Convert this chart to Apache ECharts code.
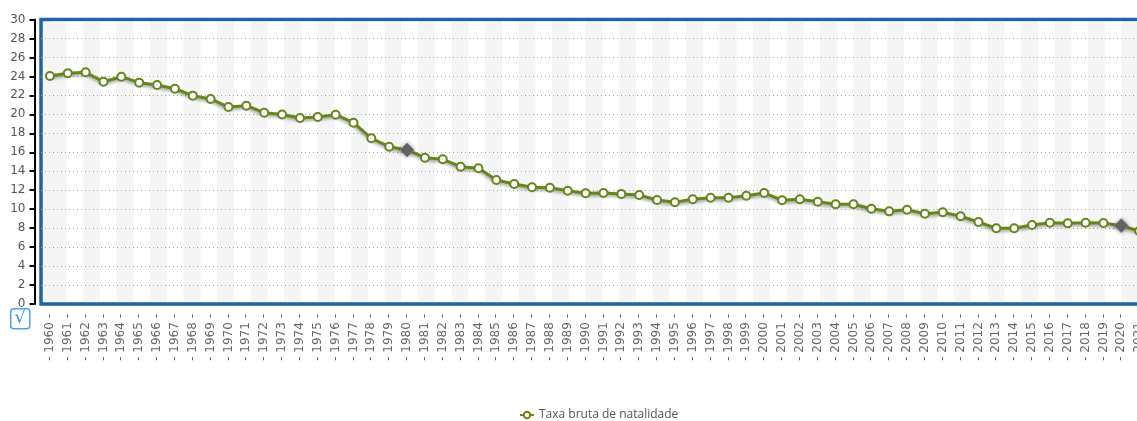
<!DOCTYPE html>
<html>
<head>
<meta charset="utf-8">
<script src="https://cdn.jsdelivr.net/npm/echarts@6/dist/echarts.min.js"></script>
<style>
  html, body { margin: 0; padding: 0; background: #fff; }
  #chart { width: 1137px; height: 421px; }
</style>
</head>
<body>
<div id="chart"></div>
<script>
// anos
const years = [];
for (let y = 1960; y <= 2021; y++) years.push(String(y));

// taxa bruta de natalidade (por mil habitantes)
const natalidade = [
  24.04, 24.33, 24.43, 23.44, 23.97, 23.34, 23.09, 22.70, 21.97, 21.62,
  20.77, 20.91, 20.17, 19.98, 19.61, 19.72, 19.96, 19.12, 17.47, 16.59,
  16.24, 15.43, 15.26, 14.48, 14.31, 13.08, 12.65, 12.31, 12.26, 11.94,
  11.67, 11.71, 11.60, 11.49, 10.97, 10.72, 11.04, 11.21, 11.21, 11.42,
  11.71, 10.94, 11.04, 10.79, 10.51, 10.51, 10.05, 9.77, 9.94, 9.52,
  9.67, 9.25, 8.65, 7.98, 7.98, 8.33, 8.57, 8.51, 8.57, 8.54,
  8.26, 7.70
];

// pontos destacados (losango)
const destaques = ['1980', '2020'];

const seriesName = 'Taxa bruta de natalidade';
const lineColor = '#66851a';
const font = 'DejaVu Sans, Verdana, sans-serif';

const chart = echarts.init(document.getElementById('chart'));

const pontos = natalidade.map((v, i) => {
  if (destaques.includes(years[i])) {
    return {
      value: v,
      symbol: 'diamond',
      symbolSize: 14,
      itemStyle: {
        color: '#666',
        borderColor: '#888',
        borderWidth: 1,
        shadowColor: 'rgba(0,0,0,0.35)',
        shadowBlur: 4,
      },
    };
  }
  return v;
});

chart.setOption({
  animation: false,
  textStyle: { fontFamily: font },
  grid: [
    {
      // área principal
      left: 41,
      right: -11.1,
      top: 19.5,
      bottom: 117,
      outerBoundsMode: 'none',
      containLabel: false,
      show: true,
      backgroundColor: '#f5f5f5',
      borderColor: '#1f64a3',
      borderWidth: 3.5,
      z: 0,
    },
    {
      // listras do fundo
      left: 49.8,
      right: -11.1,
      top: 21.5,
      bottom: 119,
      outerBoundsMode: 'none',
      containLabel: false,
    }
  ],
  legend: {
    data: [seriesName],
    left: 514,
    top: 404,
    itemWidth: 14,
    itemHeight: 8,
    itemGap: 6,
    textStyle: { color: '#555', fontSize: 12, fontFamily: 'Open Sans, sans-serif' },
  },
  xAxis: [
    {
      type: 'category',
      data: years,
      boundaryGap: true,
      z: 2,
      axisLine: { show: false },
      axisTick: { show: false },
      splitLine: { show: false },
      axisLabel: {
        rotate: 90,
        interval: 0,
        margin: 10,
        color: '#666',
        fontSize: 12,
        fontFamily: font,
        formatter: '- {value} -',
      },
    },
    {
      type: 'value',
      gridIndex: 1,
      min: 0,
      max: 65.57,
      interval: 1,
      z: 1,
      axisLine: { show: false },
      axisTick: { show: false },
      axisLabel: { show: false },
      splitLine: { show: false },
      splitArea: {
        show: true,
        areaStyle: { color: ['#f5f5f5', '#ffffff'] },
      },
    }
  ],
  yAxis: [
    {
      type: 'value',
      min: 0,
      max: 30,
      interval: 2,
      offset: 6.5,
      z: 2,
      axisLine: { show: true, lineStyle: { color: '#000', width: 2 } },
      axisTick: { show: true, length: 5, lineStyle: { color: '#000', width: 2 } },
      axisLabel: { color: '#555', fontSize: 12, fontFamily: font, margin: 9 },
      splitLine: {
        show: true,
        showMinLine: false,
        showMaxLine: false,
        lineStyle: { color: '#a0a0a0', type: [1, 3], width: 1 },
      },
    },
    {
      type: 'value',
      gridIndex: 1,
      show: false,
    }
  ],
  graphic: [
    {
      type: 'group',
      left: 10,
      top: 308,
      children: [
        {
          type: 'rect',
          shape: { x: 0, y: 0, width: 19, height: 20, r: 3 },
          style: { fill: '#fff', stroke: '#4aa3f0', lineWidth: 1.5 },
        },
        {
          type: 'text',
          x: 9.5,
          y: 10,
          style: {
            text: '√',
            fill: '#3a93e6',
            font: '18px "DejaVu Sans", sans-serif',
            align: 'center',
            verticalAlign: 'middle',
          },
        }
      ],
    }
  ],
  series: [
    {
      name: seriesName,
      type: 'line',
      data: pontos,
      z: 3,
      symbol: 'emptyCircle',
      symbolSize: 8,
      showAllSymbol: true,
      lineStyle: {
        color: lineColor,
        width: 3,
        shadowColor: 'rgba(0,0,0,0.35)',
        shadowBlur: 3,
        shadowOffsetY: 2,
      },
      itemStyle: {
        color: lineColor,
        borderColor: lineColor,
        borderWidth: 1.5,
      },
    }
  ],
});
</script>
</body>
</html>
